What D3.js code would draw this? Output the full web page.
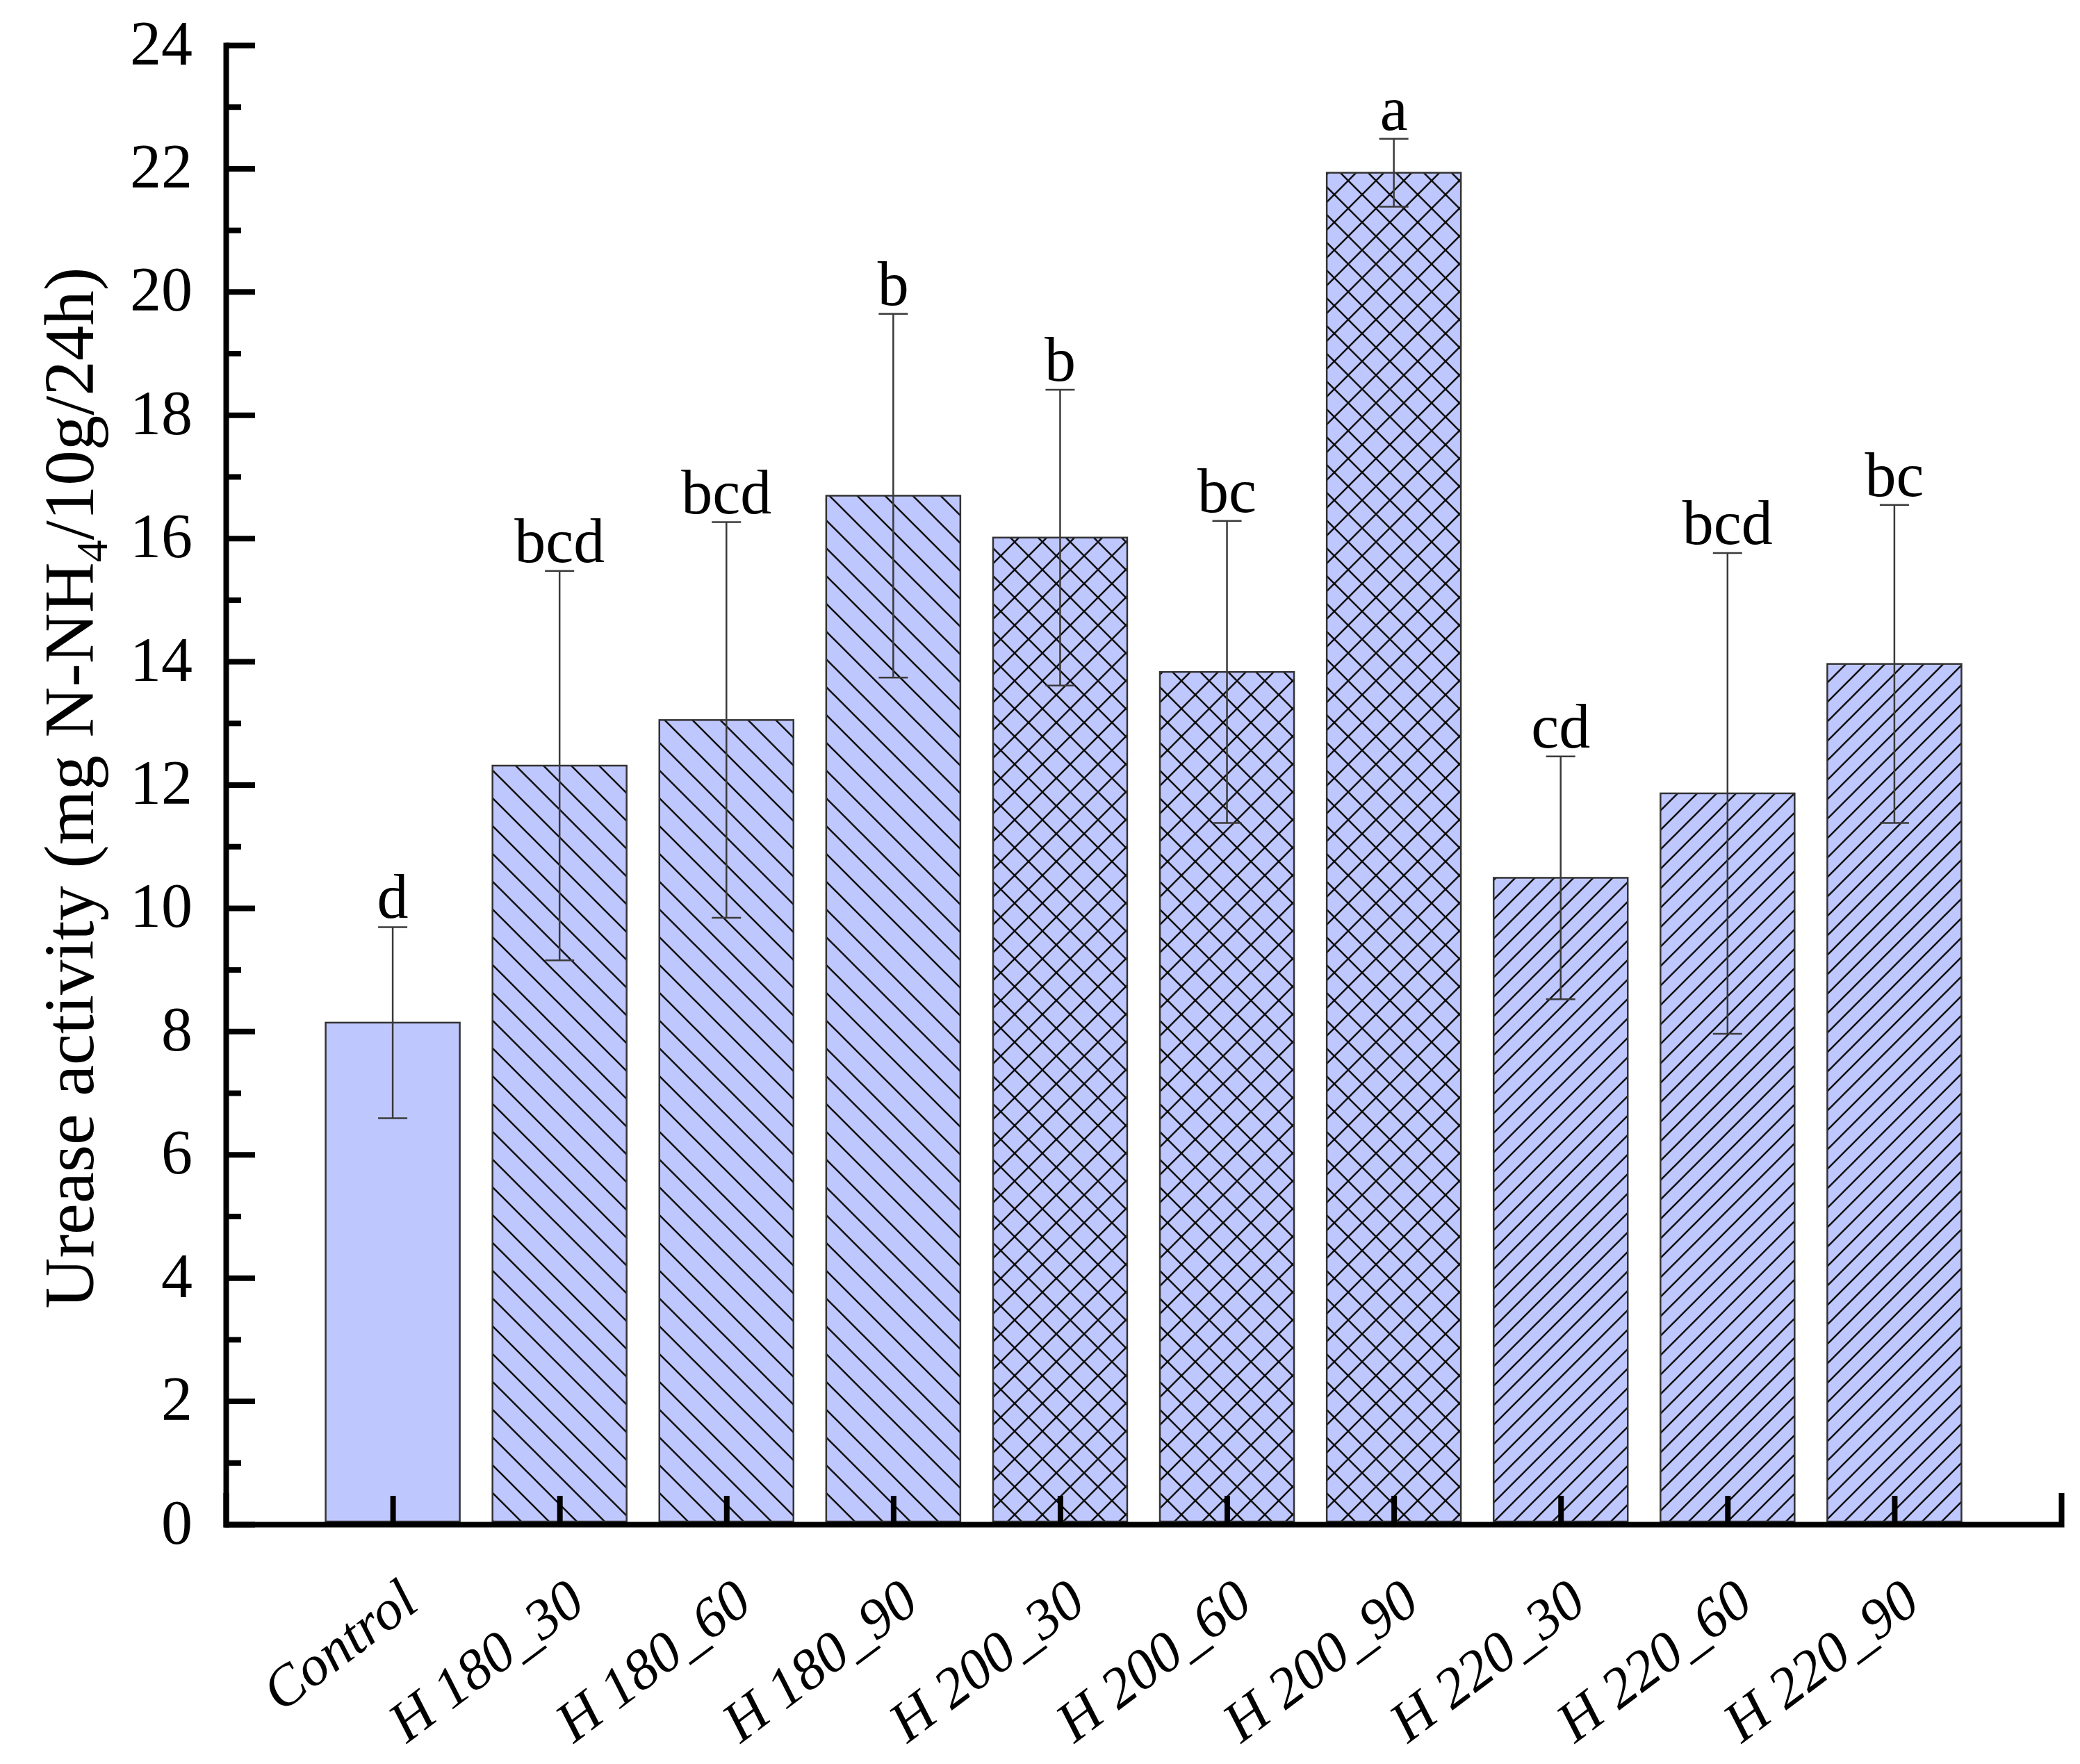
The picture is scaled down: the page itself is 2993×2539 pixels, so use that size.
<!DOCTYPE html>
<html>
<head>
<meta charset="utf-8">
<script src="https://cdn.jsdelivr.net/npm/d3@7"></script>
<style>
  body { margin: 0; background: #fff; }
  svg { display: block; }
</style>
</head>
<body>
<svg></svg>
<script>
// data
const categories = ["Control", "H 180_30", "H 180_60", "H 180_90", "H 200_30",
                    "H 200_60", "H 200_90", "H 220_30", "H 220_60", "H 220_90"];
const temperatures = [null, 180, 180, 180, 200, 200, 200, 220, 220, 220];
const means = [8.14, 12.31, 13.05, 16.69, 16.01, 13.83, 21.93, 10.49, 11.86, 13.96];
const sds = [1.55, 3.16, 3.21, 2.95, 2.40, 2.45, 0.55, 1.97, 3.90, 2.58];
const letters = ["d", "bcd", "bcd", "b", "b", "bc", "a", "cd", "bcd", "bc"];
const yMajorTicks = [0, 2, 4, 6, 8, 10, 12, 14, 16, 18, 20, 22, 24];
const yMinorTicks = [1, 3, 5, 7, 9, 11, 13, 15, 17, 19, 21, 23];

const width = 2993;
const height = 2539;
const svg = d3.select("svg")
    .attr("width", width)
    .attr("height", height);

const plotLeft = 325, plotRight = 2966, plotTop = 65, plotBottom = 2194;
const fillColor = "#bfc7ff";
const font = "'Liberation Serif', 'Times New Roman', serif";

const x = d3.scalePoint()
    .domain(categories)
    .range([plotLeft, plotRight])
    .padding(1);

const y = d3.scaleLinear()
    .domain([0, 24])
    .range([plotBottom, plotTop]);

// hatch patterns
const defs = svg.append("defs");

function hatch(id, step, dirs) {
    const p = defs.append("pattern")
        .attr("id", id)
        .attr("patternUnits", "userSpaceOnUse")
        .attr("width", step)
        .attr("height", step);
    p.append("rect").attr("width", step).attr("height", step).attr("fill", fillColor);
    dirs.forEach(dir => {
        const d = dir === "back"
            ? `M${-step},0L${2 * step},${3 * step}M${-step},${-step}L${2 * step},${2 * step}M0,${-step}L${2 * step},${step}`
            : `M${-step},${step}L${step},${-step}M${-step},${2 * step}L${2 * step},${-step}M0,${2 * step}L${2 * step},0`;
        p.append("path")
            .attr("d", d)
            .attr("stroke", "#111")
            .attr("stroke-width", 2.6);
    });
}
hatch("hBack", 40, ["back"]);
hatch("hCross", 40, ["back", "fwd"]);
hatch("hFwd", 28, ["fwd"]);

function fillFor(t) {
    if (t === 180) return "url(#hBack)";
    if (t === 200) return "url(#hCross)";
    if (t === 220) return "url(#hFwd)";
    return fillColor;
}

const bw = 193;
const rows = categories.map((c, i) => ({ cat: c, t: temperatures[i], mean: means[i], sd: sds[i], letter: letters[i] }));

// bars
svg.append("g").selectAll("rect")
    .data(rows)
    .enter().append("rect")
    .attr("x", d => x(d.cat) - bw / 2)
    .attr("y", d => y(d.mean))
    .attr("width", bw)
    .attr("height", d => y(0) - y(d.mean) - 4)
    .attr("fill", d => fillFor(d.t))
    .attr("stroke", "#333")
    .attr("stroke-width", 2.5);

// error bars
const err = svg.append("g")
    .attr("stroke", "#3a3a3a")
    .attr("stroke-width", 2.5);
rows.forEach(d => {
    const cx = x(d.cat);
    err.append("line").attr("x1", cx).attr("x2", cx)
        .attr("y1", y(d.mean + d.sd)).attr("y2", y(d.mean - d.sd));
    [d.mean + d.sd, d.mean - d.sd].forEach(v => {
        err.append("line").attr("x1", cx - 21).attr("x2", cx + 21)
            .attr("y1", y(v)).attr("y2", y(v));
    });
});

// significance letters
svg.append("g").selectAll("text")
    .data(rows)
    .enter().append("text")
    .attr("x", d => x(d.cat))
    .attr("y", d => y(d.mean + d.sd) - 13)
    .attr("text-anchor", "middle")
    .style("font-family", font)
    .style("font-size", "90px")
    .text(d => d.letter);

// y axis
const yAxis = svg.append("g")
    .attr("transform", `translate(${plotLeft},0)`)
    .call(d3.axisLeft(y)
        .tickValues(yMajorTicks)
        .tickSizeInner(-42)
        .tickSizeOuter(0)
        .tickPadding(48));
yAxis.select(".domain").attr("stroke-width", 8).attr("stroke-linecap", "square");
yAxis.selectAll(".tick line").attr("stroke-width", 8);
yAxis.selectAll(".tick text")
    .attr("dy", "0.3em")
    .style("font-family", font)
    .style("font-size", "90px")
    .attr("fill", "#000");

svg.append("g")
    .attr("transform", `translate(${plotLeft},0)`)
    .call(d3.axisLeft(y).tickValues(yMinorTicks).tickSizeInner(-22).tickSizeOuter(0).tickFormat(""))
    .call(g => g.select(".domain").remove())
    .selectAll(".tick line").attr("stroke-width", 8);

// x axis
const xAxis = svg.append("g")
    .attr("transform", `translate(0,${plotBottom})`)
    .call(d3.axisBottom(x)
        .tickSizeInner(-41)
        .tickSizeOuter(-41));
xAxis.select(".domain").attr("stroke-width", 8).attr("stroke-linecap", "square");
xAxis.selectAll(".tick line").attr("stroke-width", 8);
xAxis.selectAll(".tick text")
    .attr("y", null)
    .attr("dy", null)
    .attr("text-anchor", "end")
    .attr("transform", "translate(40,120) rotate(-37)")
    .style("font-family", font)
    .style("font-style", "italic")
    .style("font-size", "82px")
    .attr("fill", "#000");

// y axis title
const title = svg.append("text")
    .attr("transform", `translate(134,1134) rotate(-90)`)
    .attr("text-anchor", "middle")
    .style("font-family", font)
    .style("font-size", "101px");
title.append("tspan").text("Urease activity (mg N-NH");
title.append("tspan").attr("dy", 20).style("font-size", "64px").text("4");
title.append("tspan").attr("dy", -20).text("/10g/24h)");
</script>
</body>
</html>
